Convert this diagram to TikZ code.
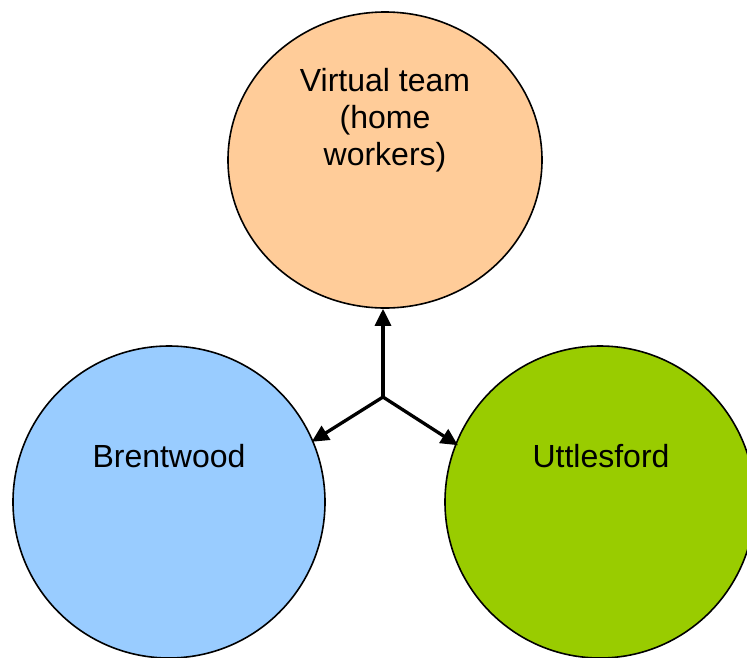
\documentclass[tikz,border=0pt]{standalone}
\usepackage{fontspec}
\setmainfont{Liberation Sans}
\usetikzlibrary{shapes.geometric,arrows.meta}
\definecolor{cOrange}{HTML}{FFCC99}
\definecolor{cBlue}{HTML}{99CCFF}
\definecolor{cGreen}{HTML}{99CC00}
\tikzset{
  blob/.style={ellipse, draw=black, line width=1.6pt, inner sep=0pt},
  lbl/.style={inner sep=0pt, align=center, font=\fontsize{32}{37}\selectfont},
  conn/.style={line width=3.3pt, -{Triangle[length=17pt,width=16pt]}}
}
\begin{document}
\begin{tikzpicture}[x=1pt,y=-1pt]
\useasboundingbox (0,0) rectangle (747,657);
\node[blob, fill=cOrange, minimum width=314pt, minimum height=296pt] (top) at (385,160) {};
\node[blob, fill=cBlue, minimum width=312pt, minimum height=312pt] (left) at (169,502) {};
\node[blob, fill=cGreen, minimum width=310pt, minimum height=312pt] (right) at (600,502) {};
\node[lbl, anchor=base] (ttop) at (385,165) {Virtual team\\(home\\workers)};
\node[lbl, anchor=base] (tleft) at (169,467) {Brentwood};
\node[lbl, anchor=base] (tright) at (601,467) {Uttlesford};
\coordinate (j) at (383,397);
\draw[conn] (j) -- (top.south -| j);
\draw[conn, shorten >=-2pt] (j) -- (left.23);
\draw[conn, shorten >=-3pt] (j) -- (right.158);
\end{tikzpicture}
\end{document}
